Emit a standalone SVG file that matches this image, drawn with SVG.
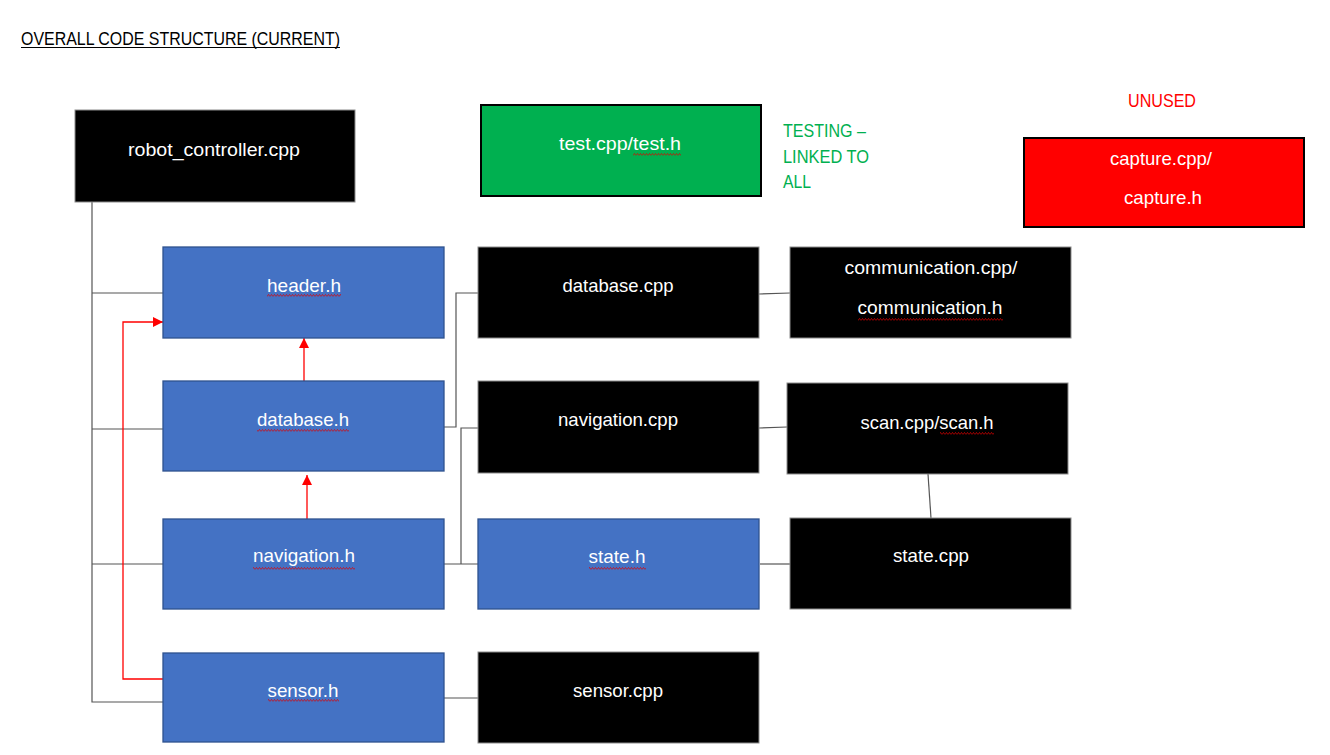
<svg xmlns="http://www.w3.org/2000/svg" width="1330" height="755" viewBox="0 0 1330 755">
<style>
text{font-family:"Liberation Sans",Arial,sans-serif;font-size:18.5px;}
.lbl{fill:#ffffff;text-anchor:middle;}
.blk{fill:#000000;stroke:#8c8c8c;stroke-width:1;}
.blu{fill:#4472C4;stroke:#2F528F;stroke-width:1.3;}
.grn{fill:#00B050;stroke:#000000;stroke-width:2;}
.red{fill:#FF0000;stroke:#000000;stroke-width:2;}
.ln{fill:none;stroke:#555555;stroke-width:1.2;}
.rl{fill:none;stroke:#FF0000;stroke-width:1.3;}
.sq{fill:url(#squig);}
</style>
<defs>
<pattern id="squig" x="0" y="0" width="3" height="3" patternUnits="userSpaceOnUse">
<polyline points="0,2.6 1.5,0.4 3,2.6" fill="none" stroke="#E00000" stroke-width="0.7"/>
</pattern>
<marker id="ah" viewBox="0 0 10 10" refX="10" refY="5" markerWidth="10" markerHeight="10" markerUnits="userSpaceOnUse" orient="auto">
<path d="M0,0 L10,5 L0,10 Z" fill="#FF0000"/>
</marker>
</defs>
<rect width="1330" height="755" fill="#ffffff"/>

<g id="title">
<text x="21" y="45" font-size="19" textLength="319" lengthAdjust="spacingAndGlyphs" fill="#000000">OVERALL CODE STRUCTURE (CURRENT)</text>
<line x1="21" y1="47.5" x2="340" y2="47.5" stroke="#000000" stroke-width="1"/>
</g>

<g id="connectors">
<polyline class="ln" points="92,202 92,702 163,702"/>
<line class="ln" x1="92" y1="293" x2="163" y2="293"/>
<line class="ln" x1="92" y1="429" x2="163" y2="429"/>
<line class="ln" x1="92" y1="564" x2="163" y2="564"/>
<polyline class="ln" points="444,427 456,427 456,293 478,293"/>
<line class="ln" x1="444" y1="564" x2="478" y2="564"/>
<polyline class="ln" points="461,564 461,428 478,428"/>
<line class="ln" x1="444" y1="698" x2="478" y2="698"/>
<line class="ln" x1="759" y1="294" x2="790" y2="293"/>
<line class="ln" x1="759" y1="428" x2="787" y2="427"/>
<line class="ln" x1="928" y1="474" x2="931" y2="518"/>
<line class="ln" x1="760" y1="564" x2="790" y2="564"/>
<polyline class="rl" stroke-width="2" points="165,679 123,679 123,322 163,322" marker-end="url(#ah)"/>
<line class="rl" x1="304" y1="381" x2="304" y2="338" marker-end="url(#ah)"/>
<line class="rl" x1="307" y1="519" x2="307" y2="475" marker-end="url(#ah)"/>
</g>

<g id="robot_controller">
<rect class="blk" x="75" y="110" width="280" height="92"/>
<text class="lbl" x="214" y="156" textLength="172" lengthAdjust="spacingAndGlyphs">robot_controller.cpp</text>
</g>

<g id="test">
<rect class="grn" x="481" y="105" width="280" height="91"/>
<text class="lbl" x="620" y="150" textLength="122" lengthAdjust="spacingAndGlyphs">test.cpp/test.h</text>
<rect class="sq" x="633" y="153" width="48" height="3"/>
</g>

<g id="testing_note">
<text x="783" y="137" textLength="83" lengthAdjust="spacingAndGlyphs" fill="#00B050">TESTING –</text>
<text x="783" y="163" textLength="86" lengthAdjust="spacingAndGlyphs" fill="#00B050">LINKED TO</text>
<text x="783" y="188" textLength="28" lengthAdjust="spacingAndGlyphs" fill="#00B050">ALL</text>
</g>

<g id="unused_note">
<text x="1162" y="107" text-anchor="middle" textLength="68" lengthAdjust="spacingAndGlyphs" fill="#FF0000">UNUSED</text>
</g>

<g id="capture">
<rect class="red" x="1024" y="138" width="280" height="89"/>
<text class="lbl" x="1161" y="165" textLength="102" lengthAdjust="spacingAndGlyphs">capture.cpp/</text>
<text class="lbl" x="1163" y="204" textLength="78" lengthAdjust="spacingAndGlyphs">capture.h</text>
</g>

<g id="header_h">
<rect class="blu" x="163" y="247" width="281" height="91"/>
<text class="lbl" x="304" y="292" textLength="74" lengthAdjust="spacingAndGlyphs">header.h</text>
<rect class="sq" x="267" y="294" width="74" height="3"/>
</g>

<g id="database_h">
<rect class="blu" x="163" y="381" width="281" height="90"/>
<text class="lbl" x="303" y="426" textLength="92" lengthAdjust="spacingAndGlyphs">database.h</text>
<rect class="sq" x="257" y="429" width="92" height="3"/>
</g>

<g id="navigation_h">
<rect class="blu" x="163" y="519" width="281" height="90"/>
<text class="lbl" x="304" y="562" textLength="102" lengthAdjust="spacingAndGlyphs">navigation.h</text>
<rect class="sq" x="253" y="567" width="102" height="3"/>
</g>

<g id="sensor_h">
<rect class="blu" x="163" y="653" width="281" height="89"/>
<text class="lbl" x="303" y="697" textLength="71" lengthAdjust="spacingAndGlyphs">sensor.h</text>
<rect class="sq" x="268" y="699" width="71" height="3"/>
</g>

<g id="database_cpp">
<rect class="blk" x="478" y="247" width="281" height="91"/>
<text class="lbl" x="618" y="292" textLength="111" lengthAdjust="spacingAndGlyphs">database.cpp</text>
</g>

<g id="navigation_cpp">
<rect class="blk" x="478" y="381" width="281" height="92"/>
<text class="lbl" x="618" y="426" textLength="120" lengthAdjust="spacingAndGlyphs">navigation.cpp</text>
</g>

<g id="state_h">
<rect class="blu" x="478" y="519" width="281" height="90"/>
<text class="lbl" x="617" y="563" textLength="57" lengthAdjust="spacingAndGlyphs">state.h</text>
<rect class="sq" x="589" y="567" width="57" height="3"/>
</g>

<g id="sensor_cpp">
<rect class="blk" x="478" y="652" width="281" height="91"/>
<text class="lbl" x="618" y="697" textLength="90" lengthAdjust="spacingAndGlyphs">sensor.cpp</text>
</g>

<g id="communication">
<rect class="blk" x="790" y="247" width="281" height="91"/>
<text class="lbl" x="931" y="274" textLength="173" lengthAdjust="spacingAndGlyphs">communication.cpp/</text>
<text class="lbl" x="930" y="314" textLength="145" lengthAdjust="spacingAndGlyphs">communication.h</text>
<rect class="sq" x="858" y="318" width="145" height="3"/>
</g>

<g id="scan">
<rect class="blk" x="787" y="383" width="281" height="91"/>
<text class="lbl" x="927" y="429" textLength="133" lengthAdjust="spacingAndGlyphs">scan.cpp/scan.h</text>
<rect class="sq" x="940" y="432" width="54" height="3"/>
</g>

<g id="state_cpp">
<rect class="blk" x="790" y="518" width="281" height="91"/>
<text class="lbl" x="931" y="562" textLength="76" lengthAdjust="spacingAndGlyphs">state.cpp</text>
</g>
</svg>
